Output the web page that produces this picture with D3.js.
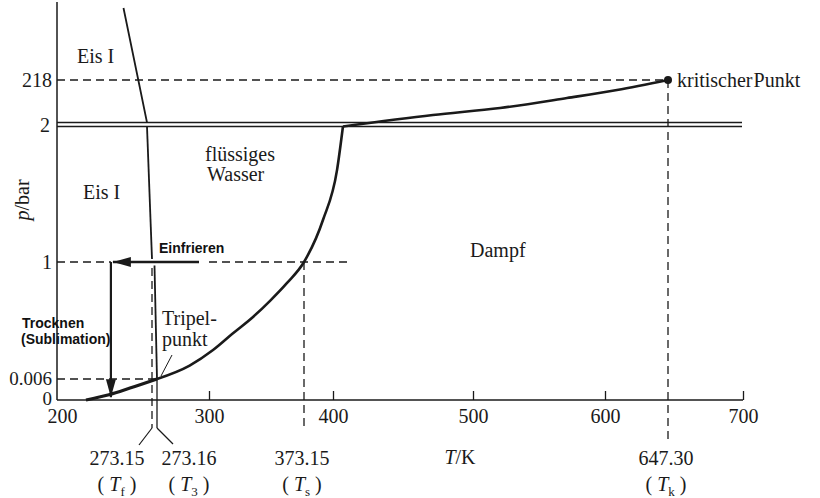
<!DOCTYPE html>
<html>
<head>
<meta charset="utf-8">
<script src="https://cdn.jsdelivr.net/npm/d3@7"></script>
<style>
  html, body { margin: 0; padding: 0; background: #ffffff; }
  svg { display: block; }
  .serif { font-family: "Liberation Serif", "DejaVu Serif", serif; fill: #1a1a1a; }
  .sans { font-family: "Liberation Sans", Arial, sans-serif; font-weight: bold; fill: #111; }
</style>
</head>
<body>
<div id="chart"></div>
<script>
// ---------- data ----------
const xTickValues = [200, 300, 400, 500, 600, 700];
const yTickLabels = ["0", "0.006", "1", "2", "218"];
const yTickValues = [0, 0.006, 1, 2, 218];

// special temperatures (K) and their symbols
const specialTemps = [273.15, 273.16, 373.15, 647.30];
const specialLabels = ["273.15", "273.16", "373.15", "647.30"];
const specialSymbols = ["f", "3", "s", "k"];

// sublimation curve (T in K, p in bar)
const sublimT = [222.3, 240.0, 256.2, 273.16];
const sublimP = [0.0, 0.0015, 0.0034, 0.006];

// vapour pressure curve below the axis break
const vapLowT = [273.16, 290.0, 303.1, 318.0, 333.9, 347.0, 360.1, 373.15, 390.7, 402.9, 407.1];
const vapLowP = [0.006, 0.12, 0.252, 0.39, 0.533, 0.67, 0.822, 1.0, 1.31, 1.68, 2.0];

// vapour pressure curve above the axis break (up to the critical point)
const vapHighT = [407.1, 471.4, 520.5, 571.2, 609.0, 647.3];
const vapHighP = [2.0, 40.1, 75.7, 126.5, 167.2, 218.0];

// melting curve (ice I / liquid)
const meltHighT = [269.3, 262.6, 251.2];
const meltHighP = [2.0, 218.0, 2100.0];

// freeze-drying path
const freezeStartT = 300;  // Einfrieren arrow start (K)
const freezeEndT = 241.5;  // corner (K)
const freezeP = 1;
const dryEndP = 0.0005;

const criticalT = 647.3, criticalP = 218;

// ---------- layout ----------
const W = 820, H = 498;
const svg = d3.select("#chart").append("svg").attr("width", W).attr("height", H);

// schematic (piecewise) scales, as drawn in the original figure
const x = d3.scaleLinear()
  .domain([200, 273.15, 273.16, 300, 373.15, 400, 500, 600, 647.3, 700])
  .range([57, 152, 157, 209, 304, 333, 473, 605, 668, 743]);
const yLow = d3.scaleLinear().domain([0, 0.006, 1, 2]).range([400, 379, 262, 126.5]);
const yHigh = d3.scaleLinear().domain([2, 218, 2100]).range([122.5, 80, 8]);
const y = p => (p <= 2 ? yLow(p) : yHigh(p));

const ink = "#1a1a1a";
const dash = "8,5";

const g = svg.append("g");

// ---- dashed guide lines ----
function dashed(x1, y1, x2, y2) {
  g.append("line").attr("x1", x1).attr("y1", y1).attr("x2", x2).attr("y2", y2)
    .attr("stroke", ink).attr("stroke-width", 1.3).attr("stroke-dasharray", dash);
}
const x0 = x(200), yAxis0 = yLow(0);
dashed(x0, yHigh(218), x(criticalT), yHigh(218));          // 218 bar
dashed(x0, yLow(1), x(freezeEndT), yLow(1));               // 1 bar, left part
dashed(x(freezeStartT), yLow(1), x(410.5), yLow(1));       // 1 bar, right part
dashed(x0, yLow(0.006), x(273.16), yLow(0.006));           // 0.006 bar
dashed(x(273.15), yLow(1) + 6, x(273.15), yAxis0 + 28);    // T_f
dashed(x(373.15), yLow(1), x(373.15), yAxis0 + 28);        // T_s
dashed(x(criticalT), yHigh(218), x(criticalT), yAxis0 + 44); // T_k

// ---- axes ----
g.append("line").attr("x1", x0).attr("y1", 2).attr("x2", x0).attr("y2", yAxis0)
  .attr("stroke", ink).attr("stroke-width", 1.5);
const xAxis = d3.axisBottom(x).tickValues(xTickValues).tickSize(0).tickFormat(d3.format("d"));
const xa = g.append("g").attr("transform", `translate(0,${yAxis0})`).call(xAxis);
xa.select(".domain").remove();
xa.append("line").attr("x1", x0).attr("x2", x(700)).attr("stroke", ink).attr("stroke-width", 1.5);
xa.selectAll(".tick text").attr("class", "serif").attr("font-size", 20).attr("dy", "1.0em")
  .attr("fill", ink).attr("font-family", "Liberation Serif");
xa.selectAll(".tick").filter(d => d !== 200).append("line")
  .attr("y1", 0).attr("y2", -9).attr("stroke", ink).attr("stroke-width", 1.3);
xa.selectAll(".tick").filter(d => d === 200).select("text").attr("dx", 5);

// axis break: double line at 2 bar
[yHigh(2), yLow(2)].forEach(yy => {
  g.append("line").attr("x1", x0).attr("x2", x(700) - 1).attr("y1", yy).attr("y2", yy)
    .attr("stroke", ink).attr("stroke-width", 1.3);
});

// y tick labels
const yLabelBase = [405, 385, 269, 131.5, 87];
g.selectAll("text.ytick").data(yTickValues).enter().append("text")
  .attr("class", "serif ytick").attr("x", (d, i) => i === 3 ? 50 : 52)
  .attr("y", (d, i) => yLabelBase[i]).attr("text-anchor", "end")
  .attr("font-size", (d, i) => i < 2 ? 19 : 20).text((d, i) => yTickLabels[i]);

// y axis title
const yt = g.append("text").attr("class", "serif").attr("font-size", 20)
  .attr("transform", "translate(29,200) rotate(-90)").attr("text-anchor", "middle");
yt.append("tspan").attr("font-style", "italic").text("p");
yt.append("tspan").text("/bar");

// x axis title
const xt = g.append("text").attr("class", "serif").attr("font-size", 20)
  .attr("x", 460).attr("y", 464).attr("text-anchor", "middle");
xt.append("tspan").attr("font-style", "italic").text("T");
xt.append("tspan").text("/K");

// ---- phase boundary curves ----
const line = d3.line().curve(d3.curveMonotoneX);
function curve(Ts, Ps, w) {
  const pts = Ts.map((t, i) => [x(t), y(Ps[i])]);
  g.append("path").attr("d", line(pts)).attr("fill", "none")
    .attr("stroke", ink).attr("stroke-width", w).attr("stroke-linecap", "butt");
}
curve(sublimT, sublimP, 3.2);
curve(vapLowT, vapLowP, 2.6);
curve(vapHighT, vapHighP, 2.6);
// melting curve: straight segments (near vertical)
function poly(Ts, Ps, w, yfun) {
  const pts = Ts.map((t, i) => [x(t), yfun(Ps[i])]);
  g.append("path").attr("d", d3.line()(pts)).attr("fill", "none")
    .attr("stroke", ink).attr("stroke-width", w);
}
poly([273.16, 273.155], [0.006, 0.97], 1.8, yLow);
poly([273.15, 269.3], [1.0, 2.0], 1.8, p => yLow(p) - (p === 1 ? 3 : 0));
poly(meltHighT, meltHighP, 1.8, yHigh);
// T3 marker line below the triple point
g.append("line").attr("x1", x(273.16)).attr("x2", x(273.16))
  .attr("y1", yLow(0.006)).attr("y2", yAxis0 + 28).attr("stroke", ink).attr("stroke-width", 1.3);
// leaders to the labels
g.append("line").attr("x1", x(273.15)).attr("y1", yAxis0 + 28).attr("x2", x(273.15) - 13).attr("y2", yAxis0 + 45)
  .attr("stroke", ink).attr("stroke-width", 1.2);
g.append("line").attr("x1", x(273.16)).attr("y1", yAxis0 + 28).attr("x2", x(273.16) + 16).attr("y2", yAxis0 + 44)
  .attr("stroke", ink).attr("stroke-width", 1.2);

// critical point
g.append("circle").attr("cx", x(criticalT)).attr("cy", yHigh(criticalP)).attr("r", 4).attr("fill", ink);

// ---- freeze-drying arrows ----
const defs = svg.append("defs");
defs.append("marker").attr("id", "ah").attr("viewBox", "0 0 18 10").attr("refX", 18).attr("refY", 5)
  .attr("markerWidth", 18).attr("markerHeight", 10).attr("markerUnits", "userSpaceOnUse")
  .attr("orient", "auto").append("path").attr("d", "M0,0 L18,5 L0,10 Z").attr("fill", ink);
g.append("line").attr("x1", x(freezeStartT) - 10).attr("y1", yLow(freezeP))
  .attr("x2", x(freezeEndT) + 2).attr("y2", yLow(freezeP))
  .attr("stroke", ink).attr("stroke-width", 2.6).attr("marker-end", "url(#ah)");
g.append("line").attr("x1", x(freezeEndT)).attr("y1", yLow(freezeP))
  .attr("x2", x(freezeEndT)).attr("y2", yLow(dryEndP) - 1)
  .attr("stroke", ink).attr("stroke-width", 2.2).attr("marker-end", "url(#ah)");

// ---- text labels ----
function txt(str, xx, yy, opts = {}) {
  return g.append("text").attr("class", opts.sans ? "sans" : "serif").attr("x", xx).attr("y", yy)
    .attr("font-size", opts.size || 20).attr("text-anchor", opts.anchor || "start").text(str);
}
txt("Eis I", 77, 63);
txt("Eis I", 83, 199);
txt("flüssiges", 205, 161);
txt("Wasser", 207, 181);
txt("Dampf", 470, 257);
txt("Tripel-", 162, 325);
txt("punkt", 162, 346);
g.append("line").attr("x1", 172).attr("y1", 355).attr("x2", 161).attr("y2", 376)
  .attr("stroke", ink).attr("stroke-width", 1);
txt("kritischer Punkt", 677, 87).attr("word-spacing", -4);
txt("Einfrieren", 159, 253, { sans: true, size: 14 });
txt("Trocknen", 22, 328, { sans: true, size: 14 });
txt("(Sublimation)", 21, 344, { sans: true, size: 14 });

// special temperature labels
const labX = [117, 189, 302, 666];
specialTemps.forEach((t, i) => {
  txt(specialLabels[i], labX[i], 465, { anchor: "middle" });
  const s = g.append("text").attr("class", "serif").attr("x", labX[i]).attr("y", 491)
    .attr("font-size", 20).attr("text-anchor", "middle");
  s.append("tspan").text("( ");
  s.append("tspan").attr("font-style", "italic").text("T");
  s.append("tspan").attr("font-size", 13).attr("dy", 5).text(specialSymbols[i]);
  s.append("tspan").attr("dy", -5).text(" )");
});
</script>
</body>
</html>
